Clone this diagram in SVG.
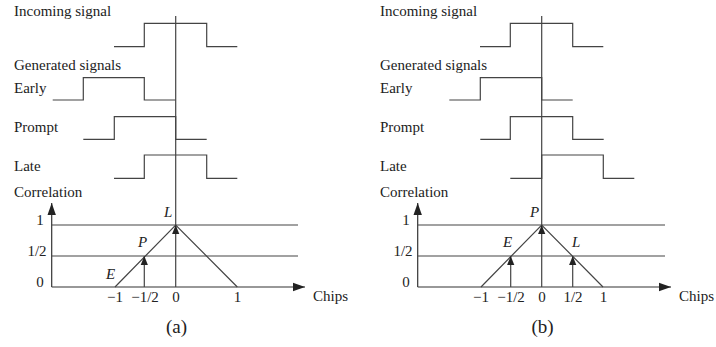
<svg xmlns="http://www.w3.org/2000/svg" width="716" height="347" viewBox="0 0 716 347">
<defs>
<marker id="ah" viewBox="0 0 10 10" refX="10" refY="5" markerWidth="9" markerHeight="9" markerUnits="userSpaceOnUse" orient="auto">
<path d="M0,1 L10,5 L0,9 Z" fill="#222"/>
</marker>
<marker id="ahb" viewBox="0 0 10 10" refX="10" refY="5" markerWidth="12" markerHeight="12" markerUnits="userSpaceOnUse" orient="auto">
<path d="M0,1.5 L10,5 L0,8.5 Z" fill="#222"/>
</marker>
</defs>
<style>
.t{font-family:"Liberation Serif","Times New Roman",serif;font-size:15px;fill:#222}
.i{font-style:italic}
.m{text-anchor:middle}
.cap{font-size:19px}
.s{fill:none;stroke:#444;stroke-width:1.2}
.a{fill:none;stroke:#444;stroke-width:1.2;marker-end:url(#ah)}
.ax{fill:none;stroke:#333;stroke-width:1.2;marker-end:url(#ahb)}
</style>
<rect width="716" height="347" fill="#fff"/>

<g id="panel-a">
<g id="a-labels">
<text class="t" x="14" y="16">Incoming signal</text>
<text class="t" x="14" y="70">Generated signals</text>
<text class="t" x="14" y="93">Early</text>
<text class="t" x="14" y="132">Prompt</text>
<text class="t" x="14" y="171">Late</text>
<text class="t" x="14" y="197">Correlation</text>
<text class="t m" x="40" y="225">1</text>
<text class="t m" x="37" y="256">1/2</text>
<text class="t m" x="40" y="287">0</text>
<text class="t m" x="115" y="302">−1</text>
<text class="t m" x="145" y="302">−1/2</text>
<text class="t m" x="176" y="302">0</text>
<text class="t m" x="237.5" y="302">1</text>
<text class="t" x="313" y="301">Chips</text>
<text class="t i" x="164" y="217">L</text>
<text class="t i" x="138" y="247">P</text>
<text class="t i" x="106" y="279">E</text>
<text class="t m cap" x="176.5" y="333">(a)</text>
</g>
<g id="a-signals">
<path class="s" d="M114,46.7 H144.3 V23.3 H206.7 V46.7 H237.3"/>
<path class="s" d="M52.7,100 H83.3 V77.7 H144.3 V100 H175.7"/>
<path class="s" d="M83.3,139.3 H114.3 V116.7 H175.7 V139.3 H206.7"/>
<path class="s" d="M114,178.3 H144.3 V155 H206.7 V178.3 H237.3"/>
</g>
<g id="a-connectors">
<path class="s" d="M175.7,16 V225"/>
<path class="ax" d="M51.7,287 V203"/>
<path class="ax" d="M51.7,287 H305"/>
<path class="s" d="M51.7,225 H298"/>
<path class="s" d="M51.7,256 H298"/>
<path class="s" d="M115,287 L175.7,225 L237.3,287"/>
<path class="a" d="M144.3,287 V256"/>
<path class="a" d="M175.7,287 V225"/>
</g>
</g>

<g id="panel-b">
<g id="b-labels">
<text class="t" x="380" y="16">Incoming signal</text>
<text class="t" x="380" y="70">Generated signals</text>
<text class="t" x="380" y="93">Early</text>
<text class="t" x="380" y="132">Prompt</text>
<text class="t" x="380" y="171">Late</text>
<text class="t" x="380" y="197">Correlation</text>
<text class="t m" x="406" y="225">1</text>
<text class="t m" x="403" y="256">1/2</text>
<text class="t m" x="406" y="287">0</text>
<text class="t m" x="481" y="302">−1</text>
<text class="t m" x="511" y="302">−1/2</text>
<text class="t m" x="542" y="302">0</text>
<text class="t m" x="573" y="302">1/2</text>
<text class="t m" x="603.5" y="302">1</text>
<text class="t" x="679" y="301">Chips</text>
<text class="t i" x="530" y="217">P</text>
<text class="t i" x="503" y="247">E</text>
<text class="t i" x="572" y="247">L</text>
<text class="t m cap" x="542.5" y="333">(b)</text>
</g>
<g id="b-signals">
<path class="s" d="M480,46.7 H510.3 V23.3 H572.7 V46.7 H603.3"/>
<path class="s" d="M449.3,100 H480.3 V77.7 H541.7 V100 H572.7"/>
<path class="s" d="M480.3,139.3 H510.3 V116.7 H572.7 V139.3 H603.7"/>
<path class="s" d="M510.3,178.3 H541.7 V155 H603.3 V178.3 H634.3"/>
</g>
<g id="b-connectors">
<path class="s" d="M541.7,16 V225"/>
<path class="ax" d="M417.7,287 V203"/>
<path class="ax" d="M417.7,287 H671"/>
<path class="s" d="M417.7,225 H665"/>
<path class="s" d="M417.7,256 H665"/>
<path class="s" d="M481,287 L541.7,225 L603,287"/>
<path class="a" d="M510.7,287 V256"/>
<path class="a" d="M541.7,287 V225"/>
<path class="a" d="M572.7,287 V256"/>
</g>
</g>
</svg>
